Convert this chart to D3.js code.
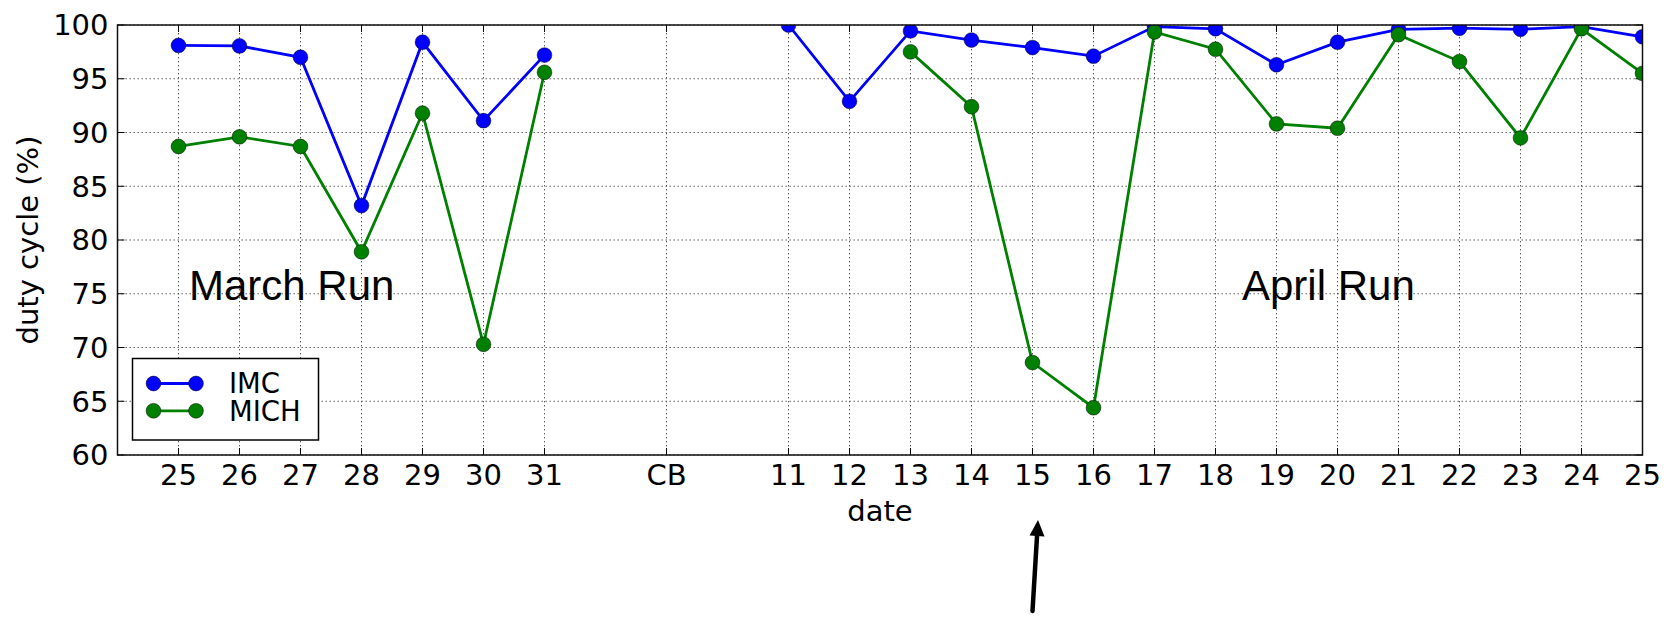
<!DOCTYPE html>
<html>
<head>
<meta charset="utf-8">
<script src="https://cdn.jsdelivr.net/npm/d3@7"></script>
<style>
  body { margin: 0; background: #fff; }
  svg { display: block; }
  text { font-family: "DejaVu Sans", sans-serif; fill: #000; }
</style>
</head>
<body>
<div id="chart"></div>
<script>
// tick labels along the date axis, with their slot positions (gaps around CB)
const tickLabels = ["25","26","27","28","29","30","31","CB","11","12","13","14","15","16","17","18","19","20","21","22","23","24","25"];
const tickSlots  = [0,1,2,3,4,5,6,8,10,11,12,13,14,15,16,17,18,19,20,21,22,23,24];

// March run: 25..31
const marchSlots = [0,1,2,3,4,5,6];
const marchIMC  = [98.1, 98.05, 97.0, 83.2, 98.4, 91.1, 97.2];
const marchMICH = [88.7, 89.6, 88.7, 78.9, 91.8, 70.3, 95.6];

// April run: 11..25
const aprilSlots = [10,11,12,13,14,15,16,17,18,19,20,21,22,23,24];
const aprilIMC  = [100, 92.9, 99.45, 98.6, 97.9, 97.1, 99.85, 99.65, 96.3, 98.4, 99.6, 99.7, 99.6, 99.85, 98.9];
const aprilMICH = [null, null, 97.5, 92.4, 68.6, 64.4, 99.35, 97.75, 90.8, 90.4, 99.1, 96.6, 89.5, 99.65, 95.5];

const yTicks = [60, 65, 70, 75, 80, 85, 90, 95, 100];

const W = 1668, H = 617;
const plot = { left: 117.5, right: 1642.5, top: 25, bottom: 455 };

const svg = d3.select("#chart").append("svg")
  .attr("width", W)
  .attr("height", H);

const x = d3.scaleLinear().domain([-1, 24]).range([plot.left, plot.right]);
const y = d3.scaleLinear().domain([60, 100]).range([plot.bottom, plot.top]);

svg.append("defs").append("clipPath")
  .attr("id", "plotclip")
  .append("rect")
  .attr("x", plot.left).attr("y", plot.top)
  .attr("width", plot.right - plot.left)
  .attr("height", plot.bottom - plot.top);

// grid (dotted, matplotlib classic look)
const grid = svg.append("g").attr("class", "grid");
grid.selectAll("line.vg")
  .data(tickSlots)
  .join("line")
  .attr("x1", d => x(d)).attr("x2", d => x(d))
  .attr("y1", plot.top).attr("y2", plot.bottom)
  .attr("stroke", "#555")
  .attr("stroke-width", 1)
  .attr("stroke-dasharray", "1.4,2.6");
grid.selectAll("line.hg")
  .data(yTicks)
  .join("line")
  .attr("x1", plot.left).attr("x2", plot.right)
  .attr("y1", d => y(d)).attr("y2", d => y(d))
  .attr("stroke", "#555")
  .attr("stroke-width", 1)
  .attr("stroke-dasharray", "1.4,2.6");

// inward ticks on all four sides
const tickLen = 7;
const ticks = svg.append("g").attr("stroke", "#000").attr("stroke-width", 1);
tickSlots.forEach(s => {
  ticks.append("line").attr("x1", x(s)).attr("x2", x(s)).attr("y1", plot.bottom).attr("y2", plot.bottom - tickLen);
  ticks.append("line").attr("x1", x(s)).attr("x2", x(s)).attr("y1", plot.top).attr("y2", plot.top + tickLen);
});
yTicks.forEach(v => {
  ticks.append("line").attr("x1", plot.left).attr("x2", plot.left + tickLen).attr("y1", y(v)).attr("y2", y(v));
  ticks.append("line").attr("x1", plot.right).attr("x2", plot.right - tickLen).attr("y1", y(v)).attr("y2", y(v));
});

// series
const lines = svg.append("g").attr("clip-path", "url(#plotclip)");
const lineGen = d3.line()
  .defined(d => d[1] != null)
  .x(d => x(d[0]))
  .y(d => y(d[1]));

const series = [
  { name: "IMC",  color: "#0000ff", runs: [[marchSlots, marchIMC], [aprilSlots, aprilIMC]] },
  { name: "MICH", color: "#008000", runs: [[marchSlots, marchMICH], [aprilSlots, aprilMICH]] }
];

series.forEach(s => {
  s.runs.forEach(([slots, vals]) => {
    const pts = slots.map((k, i) => [k, vals[i]]);
    lines.append("path")
      .datum(pts)
      .attr("fill", "none")
      .attr("stroke", s.color)
      .attr("stroke-width", 2.8)
      .attr("d", lineGen);
    lines.selectAll(null)
      .data(pts.filter(d => d[1] != null))
      .join("circle")
      .attr("cx", d => x(d[0]))
      .attr("cy", d => y(d[1]))
      .attr("r", 7.4)
      .attr("fill", s.color)
      .attr("stroke", "#000")
      .attr("stroke-opacity", 0.6)
      .attr("stroke-width", 0.8);
  });
});

// frame
svg.append("rect")
  .attr("x", plot.left).attr("y", plot.top)
  .attr("width", plot.right - plot.left)
  .attr("height", plot.bottom - plot.top)
  .attr("fill", "none")
  .attr("stroke", "#111")
  .attr("stroke-width", 1.5);

// tick labels
svg.append("g").selectAll("text")
  .data(tickSlots)
  .join("text")
  .attr("x", d => x(d))
  .attr("y", plot.bottom + 30)
  .attr("text-anchor", "middle")
  .style("font-size", "29px")
  .text((d, i) => tickLabels[i]);

svg.append("g").selectAll("text")
  .data(yTicks)
  .join("text")
  .attr("x", plot.left - 9)
  .attr("y", d => y(d))
  .attr("dy", "0.36em")
  .attr("text-anchor", "end")
  .style("font-size", "29px")
  .text(d => d);

// axis titles
svg.append("text")
  .attr("x", (plot.left + plot.right) / 2)
  .attr("y", 521)
  .attr("text-anchor", "middle")
  .style("font-size", "29px")
  .text("date");

svg.append("text")
  .attr("transform", `translate(38,${(plot.top + plot.bottom) / 2}) rotate(-90)`)
  .attr("text-anchor", "middle")
  .style("font-size", "29px")
  .text("duty cycle (%)");

// run annotations
svg.append("text")
  .attr("x", 189).attr("y", 300)
  .style("font-family", "'Liberation Sans', Arial, sans-serif")
  .style("font-size", "42px")
  .text("March Run");

svg.append("text")
  .attr("x", 1242).attr("y", 300)
  .style("font-family", "'Liberation Sans', Arial, sans-serif")
  .style("font-size", "42px")
  .text("April Run");

// legend
const legend = svg.append("g");
legend.append("rect")
  .attr("x", 132.5).attr("y", 358.5)
  .attr("width", 186).attr("height", 81.5)
  .attr("fill", "#fff")
  .attr("stroke", "#000")
  .attr("stroke-width", 1.5);

series.forEach((s, i) => {
  const ly = 383.5 + i * 27.3;
  legend.append("line")
    .attr("x1", 153.5).attr("x2", 196)
    .attr("y1", ly).attr("y2", ly)
    .attr("stroke", s.color)
    .attr("stroke-width", 2.8);
  [153.5, 196].forEach(cx => {
    legend.append("circle")
      .attr("cx", cx).attr("cy", ly).attr("r", 7.4)
      .attr("fill", s.color)
      .attr("stroke", "#000")
      .attr("stroke-opacity", 0.6)
      .attr("stroke-width", 0.8);
  });
  legend.append("text")
    .attr("x", 229).attr("y", ly)
    .attr("dy", "0.36em")
    .style("font-size", "27.5px")
    .text(s.name);
});

// arrow below the axis, pointing up at day 15
const tailX = x(14), tailY = 611;
const tipX = x(14) + 5.5, tipY = 520;
const ang = Math.atan2(tipY - tailY, tipX - tailX);
const headLen = 16, headHalf = 7.5;
const bx = tipX - headLen * Math.cos(ang), by = tipY - headLen * Math.sin(ang);
svg.append("line")
  .attr("x1", tailX).attr("y1", tailY)
  .attr("x2", bx).attr("y2", by)
  .attr("stroke", "#000")
  .attr("stroke-width", 4.5)
  .attr("stroke-linecap", "round");
svg.append("polygon")
  .attr("points", [
    [tipX, tipY],
    [bx + headHalf * Math.sin(ang), by - headHalf * Math.cos(ang)],
    [bx - headHalf * Math.sin(ang), by + headHalf * Math.cos(ang)]
  ].map(p => p.join(",")).join(" "))
  .attr("fill", "#000");
</script>
</body>
</html>
